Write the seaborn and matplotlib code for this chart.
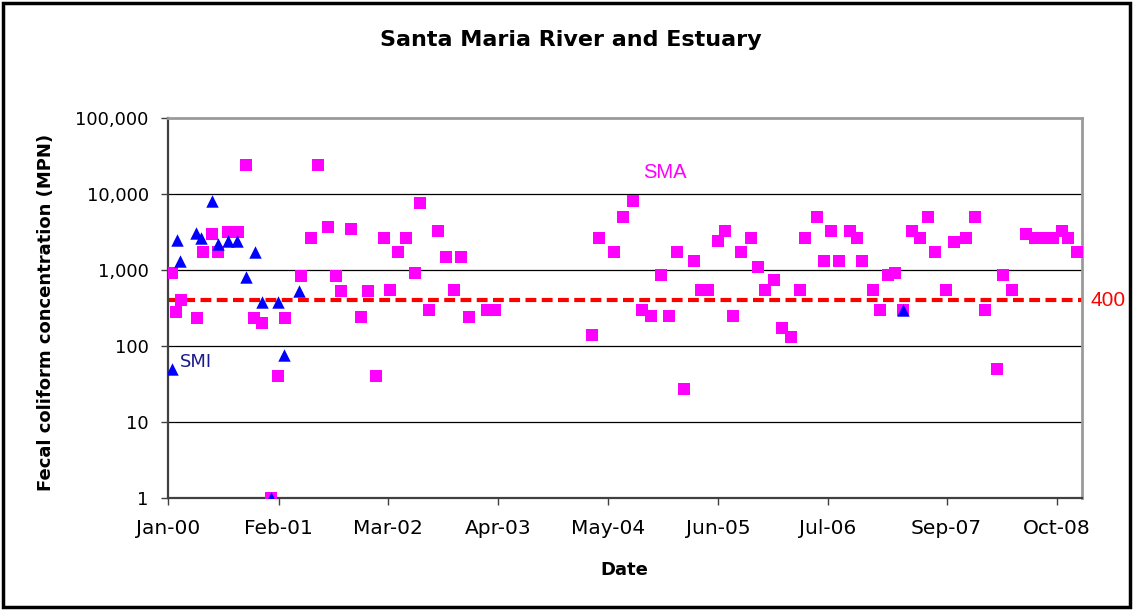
import matplotlib
matplotlib.use("Agg")
import matplotlib.pyplot as plt
import matplotlib.dates as mdates
from matplotlib.ticker import FixedLocator, FuncFormatter, NullLocator
from matplotlib.patches import Rectangle
import seaborn as sns
import pandas as pd

# ---------------- data ----------------
sma_dates = [
    "2000-01-13", "2000-01-28", "2000-02-15", "2000-04-12", "2000-05-04", "2000-06-05",
    "2000-06-27", "2000-08-04", "2000-09-09", "2000-10-07", "2000-11-05", "2000-12-02",
    "2001-01-04", "2001-01-28", "2001-02-23", "2001-04-24", "2001-05-28", "2001-06-23",
    "2001-07-27", "2001-08-28", "2001-09-15", "2001-10-19", "2001-11-23", "2001-12-18",
    "2002-01-17", "2002-02-16", "2002-03-08", "2002-04-07", "2002-05-04", "2002-06-06",
    "2002-06-24", "2002-07-27", "2002-08-29", "2002-09-26", "2002-10-24", "2002-11-19",
    "2002-12-18", "2003-02-19", "2003-03-21", "2004-03-05", "2004-03-30", "2004-05-22",
    "2004-06-22", "2004-07-28", "2004-08-30", "2004-10-02", "2004-11-06", "2004-12-06",
    "2005-01-05", "2005-01-30", "2005-03-06", "2005-03-31", "2005-04-26", "2005-05-30",
    "2005-06-25", "2005-07-25", "2005-08-22", "2005-09-26", "2005-10-21", "2005-11-16",
    "2005-12-20", "2006-01-18", "2006-02-17", "2006-03-22", "2006-04-09", "2006-05-21",
    "2006-06-16", "2006-07-12", "2006-08-09", "2006-09-18", "2006-10-12", "2006-10-30",
    "2006-12-11", "2007-01-06", "2007-02-01", "2007-03-01", "2007-03-27", "2007-04-28",
    "2007-05-28", "2007-06-27", "2007-07-21", "2007-08-28", "2007-09-27", "2007-11-08",
    "2007-12-12", "2008-01-17", "2008-02-28", "2008-03-23", "2008-04-22", "2008-06-11",
    "2008-07-15", "2008-08-13", "2008-09-18", "2008-10-21", "2008-11-11", "2008-12-12",
]
sma_values = [
    900, 280, 400, 230, 1700, 3000,
    1700, 3200, 3200, 24000, 230, 200,
    1, 40, 230, 830, 2600, 24000,
    3700, 830, 520, 3500, 240, 520,
    40, 2600, 550, 1700, 2600, 900,
    7600, 300, 3300, 1500, 550, 1500,
    240, 300, 300, 140, 2600, 1700,
    5000, 8000, 300, 250, 850, 250,
    1700, 27, 1300, 550, 550, 2400,
    3300, 250, 1700, 2600, 1100, 550,
    730, 170, 130, 550, 2600, 5000,
    1300, 3300, 1300, 3300, 2600, 1300,
    550, 300, 850, 900, 300, 3300,
    2600, 5000, 1700, 550, 2300, 2600,
    5000, 300, 50, 850, 550, 3000,
    2600, 2600, 2600, 3300, 2600, 1700,
]

smi_dates = [
    "2000-01-13", "2000-01-31", "2000-02-12", "2000-04-09", "2000-04-27", "2000-06-05",
    "2000-06-27", "2000-08-02", "2000-09-03", "2000-10-07", "2000-11-08", "2000-12-02",
    "2001-01-04", "2001-01-28", "2001-02-21", "2001-04-16", "2007-03-27",
]
smi_values = [
    50, 2500, 1300, 3100, 2600, 8000,
    2200, 2400, 2400, 800, 1700, 380,
    1, 380, 75, 530, 300,
]

threshold = 400
tick_dates = ["2000-01-01", "2001-02-01", "2002-03-01", "2003-04-01", "2004-05-01",
              "2005-06-01", "2006-07-01", "2007-09-01", "2008-10-01"]
y_ticks = [1, 10, 100, 1000, 10000, 100000]

title = "Santa Maria River and Estuary"
x_label = "Date"
y_label = "Fecal coliform concentration (MPN)"

sma = pd.DataFrame({"date": pd.to_datetime(sma_dates), "value": sma_values})
smi = pd.DataFrame({"date": pd.to_datetime(smi_dates), "value": smi_values})

# ---------------- style ----------------
sns.set_style("white")
plt.rcParams["font.family"] = ["DejaVu Sans"]
plt.rcParams["text.color"] = "black"
plt.rcParams["axes.labelcolor"] = "black"
plt.rcParams["xtick.color"] = "black"
plt.rcParams["ytick.color"] = "black"

W, H = 1134, 613
fig = plt.figure(figsize=(W / 100, H / 100), dpi=100)
ax = fig.add_axes([168.3 / W, 1 - 497.7 / H, (1082.3 - 168.3) / W, (497.7 - 118) / H])

ax.set_yscale("log")
ax.set_ylim(1, 100000)
ax.set_xlim(pd.Timestamp("2000-01-01"), pd.Timestamp("2009-01-01"))

# grid lines at decades
for v in y_ticks[1:-1]:
    ax.axhline(v, color="black", lw=0.9, zorder=1)

# threshold line
ax.axhline(threshold, color="#FF0000", lw=3.0, dashes=(2.6, 1.3), zorder=2)

sns.scatterplot(data=sma, x="date", y="value", marker="s", color="#FF00FF",
                s=72, linewidth=0, ax=ax, zorder=3)
sns.scatterplot(data=smi, x="date", y="value", marker="^", color="#0000FF",
                s=80, linewidth=0, ax=ax, zorder=4)

# axes formatting
ax.yaxis.set_major_locator(FixedLocator(y_ticks))
ax.yaxis.set_minor_locator(NullLocator())
ax.yaxis.set_major_formatter(FuncFormatter(lambda v, p: f"{int(round(v)):,}"))
ax.xaxis.set_major_locator(FixedLocator([mdates.date2num(pd.Timestamp(d)) for d in tick_dates]))
ax.xaxis.set_major_formatter(mdates.DateFormatter("%b-%y"))

ax.tick_params(axis="y", which="major", direction="out", length=5, width=1,
               color="#404040", labelcolor="black", labelsize=13, pad=9, left=True)
ax.tick_params(axis="x", which="major", direction="out", length=5, width=1,
               color="#404040", labelcolor="black", labelsize=14.5, pad=10, bottom=True)

for side in ["left", "bottom"]:
    ax.spines[side].set_color("#404040")
    ax.spines[side].set_linewidth(1.6)
for side in ["top", "right"]:
    ax.spines[side].set_color("#9a9a9a")
    ax.spines[side].set_linewidth(2)

ax.set_xlabel(x_label, fontsize=13, fontweight="bold", color="black")
ax.set_ylabel(y_label, fontsize=13, fontweight="bold", color="black")
ax.xaxis.set_label_coords(0.4986, -0.166)
ax.yaxis.set_label_coords(-0.124, 0.488)

fig.text(571 / W, 1 - 40 / H, title, ha="center", va="center",
         fontsize=16, fontweight="bold", color="black")

# annotations
ax.text(pd.Timestamp("2004-11-22"), 10 ** ((498 - 172.7) / 76), "SMA", color="#FF00FF",
        family=["Liberation Sans"], fontsize=14.5, ha="center", va="center")
ax.text(pd.Timestamp("2000-02-11"), 10 ** ((498 - 362) / 76), "SMI", color="#1a1a8c",
        fontsize=13, ha="left", va="center")
ax.text(1.0085, threshold, "400", color="#FF0000", family=["Liberation Sans"], fontsize=15,
        ha="left", va="center", transform=ax.get_yaxis_transform())

# outer chart border
fig.add_artist(Rectangle((3 / W, 6 / H), (1130 - 3) / W, (607 - 3) / H,
                         transform=fig.transFigure, fill=False, edgecolor="black", lw=2.5))

fig.savefig("out.png", dpi=100)
